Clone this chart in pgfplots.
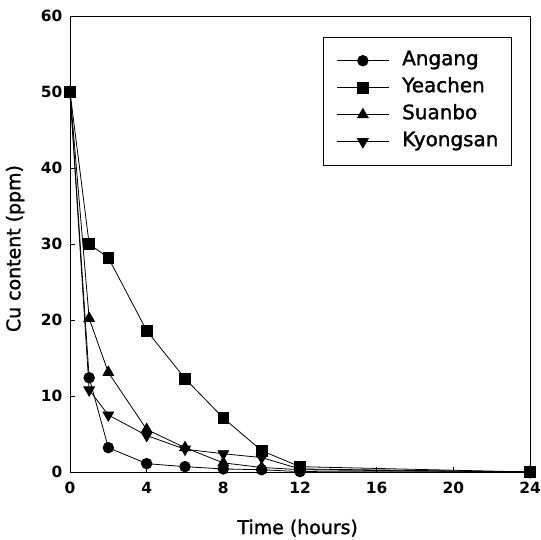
\documentclass[border=0pt]{standalone}
\usepackage{pgfplots}
\pgfplotsset{compat=1.18}
\usepackage{fontspec}
\setmainfont{DejaVu Sans}
\newfontfamily\semib{DejaVu Sans}[FakeBold=1.5]
\begin{document}
\begin{tikzpicture}
\begin{axis}[
  name=ax,
  scale only axis,
  width=460bp, height=456bp,
  xmin=0, xmax=24, ymin=0, ymax=60,
  xtick={0,4,8,12,16,20,24},
  ytick={0,10,20,30,40,50,60},
  tick align=inside,
  xtick pos=left, ytick pos=left,
  major tick length=5bp,
  tick style={black, line width=0.5pt},
  axis line style={line width=0.7pt},
  /pgf/number format/assume math mode=true,
  ticklabel style={font=\fontsize{15.5}{19}\selectfont\bfseries},
  xticklabel style={yshift=-7bp},
  yticklabel style={xshift=-4bp},
  xlabel={Time (hours)},
  ylabel={Cu content (ppm)},
  label style={font=\fontsize{19}{22}\selectfont\semib},
  xlabel style={at={(axis description cs:0.495,-0.136)}, anchor=base},
  ylabel style={at={(axis description cs:-0.108,0.49)}, anchor=base},
  clip=false,
  legend style={at={(0.96,0.954)}, anchor=north east, draw=black, line width=0.5pt,
    font=\fontsize{20}{23}\selectfont\semib,
    nodes={inner sep=0pt, text height=14bp, text depth=5bp},
    row sep=8bp, column sep=13bp, inner xsep=13bp, inner ysep=14bp},
  legend cell align=left,
  legend image code/.code={
    \draw[mark repeat=2,mark phase=2] plot coordinates {(0bp,0bp) (26bp,0bp) (52bp,0bp)};},
  every axis plot/.append style={black, line width=0.8pt, mark options={fill=black, solid}},
]
\addplot[mark=*, mark size=5.3bp] coordinates {
 (0,50) (1,12.4) (2,3.2) (4,1.1) (6,0.7) (8,0.4) (10,0.3) (12,0.05) (24,0)};
\addlegendentry{Angang}
\addplot[mark=square*, mark size=5.4bp] coordinates {
 (0,50) (1,30) (2,28.2) (4,18.6) (6,12.3) (8,7.1) (10,2.8) (12,0.7) (24,0)};
\addlegendentry{Yeachen}
\addplot[mark=triangle*, mark size=6.2bp] coordinates {
 (0,50) (1,20.2) (2,13.1) (4,5.6) (6,3.2) (8,1.2) (10,0.6) (12,0.3) (24,0)};
\addlegendentry{Suanbo}
\addplot[mark=triangle*, mark size=6.2bp, mark options={rotate=180}] coordinates {
 (0,50) (1,10.8) (2,7.5) (4,4.8) (6,3.0) (8,2.4) (10,1.9) (12,0.4) (24,0)};
\addlegendentry{Kyongsan}
\end{axis}
\pgfresetboundingbox
\path[use as bounding box] ([xshift=-70bp,yshift=-68bp]ax.south west) rectangle ([xshift=11bp,yshift=16bp]ax.north east);
\end{tikzpicture}
\end{document}
